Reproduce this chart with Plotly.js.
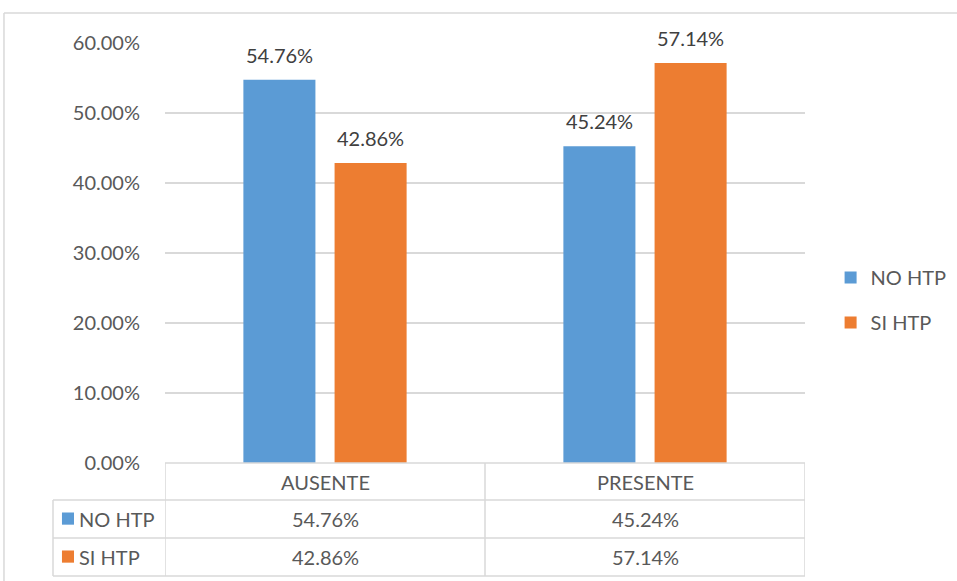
<!DOCTYPE html>
<html>
<head>
<meta charset="utf-8">
<script src="https://cdn.plot.ly/plotly-3.0.1.min.js"></script>
<style>body{margin:0;padding:0;background:#fff;}#chart{width:957px;height:581px;}</style>
</head>
<body>
<div id="chart"></div>
<script>
const categories = ["AUSENTE", "PRESENTE"];
const seriesNames = ["NO HTP", "SI HTP"];
const noHtp = [0.5476, 0.4524];
const siHtp = [0.4286, 0.5714];
const colors = ["#5B9BD5", "#ED7D31"];
const tickVals = [0, 0.1, 0.2, 0.3, 0.4, 0.5, 0.6];

const FONT = "Lato, 'Open Sans', sans-serif";
const TXT = "#595959";
const FS = 20;
const fmt = v => (v * 100).toFixed(2) + "%";
const allSeries = [noHtp, siHtp];

const traces = allSeries.map((vals, i) => ({
  type: "bar",
  name: seriesNames[i],
  x: categories,
  y: vals,
  marker: { color: colors[i] },
  legendgroup: "g" + i,
  hoverinfo: "skip"
}));

// bar geometry
const BARGAP = 0.43, GROUPGAP = 0.21;
const catPx = 640 / categories.length;
const slotPx = catPx * (1 - BARGAP) / allSeries.length;

// table geometry (paper units relative to plot area)
const rowTop = [0, -0.0881, -0.1786, -0.2690];
const leftCol = -0.175;
const shapes = [];
const lineStyle = { color: "#D9D9D9", width: 1.5 };
shapes.push({ type: "line", xref: "x", yref: "paper", x0: -0.5, x1: 1.5, y0: rowTop[0], y1: rowTop[0], line: lineStyle });
for (let r = 1; r < rowTop.length; r++) {
  shapes.push({ type: "line", xref: "paper", yref: "paper", x0: leftCol, x1: 1, y0: rowTop[r], y1: rowTop[r], line: lineStyle });
}
[-0.5, 0.5, 1.5].forEach(xv => {
  shapes.push({ type: "line", xref: "x", yref: "paper", x0: xv, x1: xv, y0: rowTop[0], y1: rowTop[3], line: lineStyle });
});
shapes.push({ type: "line", xref: "paper", yref: "paper", x0: leftCol, x1: leftCol, y0: rowTop[1], y1: rowTop[3], line: lineStyle });
// outer chart border (left & top)
shapes.push({ type: "line", xref: "paper", yref: "paper", x0: -0.2516, x1: -0.2516, y0: 1.0714, y1: -0.3, line: lineStyle });
shapes.push({ type: "line", xref: "paper", yref: "paper", x0: -0.2516, x1: 1.3, y0: 1.0714, y1: 1.0714, line: lineStyle });
// legend keys in table
seriesNames.forEach((n, i) => {
  const yc = (rowTop[i + 1] + rowTop[i + 2]) / 2;
  shapes.push({ type: "rect", xref: "paper", yref: "paper", x0: -0.161, x1: -0.1422, y0: yc - 0.0135, y1: yc + 0.0155, fillcolor: colors[i], line: { width: 0 } });
});

const annotations = [];
// data labels above bars
allSeries.forEach((vals, i) => {
  const off = (i - (allSeries.length - 1) / 2) * slotPx;
  vals.forEach((v, j) => {
    annotations.push({ xref: "x", yref: "y", x: categories[j], y: v, text: fmt(v), showarrow: false, xanchor: "center", yanchor: "bottom", xshift: off, yshift: 11, font: { family: FONT, size: FS, color: "#404040" } });
  });
});
categories.forEach((c, j) => {
  annotations.push({ xref: "x", yref: "paper", x: j, y: (rowTop[0] + rowTop[1]) / 2, text: c, showarrow: false, xanchor: "center", yanchor: "middle", font: { family: FONT, size: FS, color: TXT } });
  allSeries.forEach((vals, i) => {
    annotations.push({ xref: "x", yref: "paper", x: j, y: (rowTop[i + 1] + rowTop[i + 2]) / 2, text: fmt(vals[j]), showarrow: false, xanchor: "center", yanchor: "middle", font: { family: FONT, size: FS, color: TXT } });
  });
});
seriesNames.forEach((n, i) => {
  annotations.push({ xref: "paper", yref: "paper", x: -0.1375, y: (rowTop[i + 1] + rowTop[i + 2]) / 2, text: n, showarrow: false, xanchor: "left", yanchor: "middle", font: { family: FONT, size: FS, color: TXT } });
});

const layout = {
  width: 957, height: 581,
  margin: { l: 165, r: 152, t: 43, b: 118, autoexpand: false },
  paper_bgcolor: "#fff", plot_bgcolor: "#fff",
  barmode: "group", bargap: BARGAP, bargroupgap: GROUPGAP,
  font: { family: FONT, color: TXT, size: FS },
  xaxis: { type: "category", showticklabels: false, showgrid: false, zeroline: false, showline: false, ticks: "", range: [-0.5, 1.5], fixedrange: true },
  yaxis: { range: [0, 0.6], tickvals: tickVals, tickformat: ".2%", showgrid: true, gridcolor: "#D9D9D9", gridwidth: 1.5, zeroline: false, showline: false, ticks: "", ticklabelstandoff: 24, tickfont: { family: FONT, size: FS, color: TXT }, fixedrange: true },
  legend: { x: 1.04, y: 0.388, xanchor: "left", yanchor: "middle", font: { family: FONT, size: FS, color: TXT }, traceorder: "grouped", tracegroupgap: 16, bgcolor: "rgba(0,0,0,0)" },
  shapes: shapes,
  annotations: annotations,
  showlegend: true
};

Plotly.newPlot("chart", traces, layout, { displayModeBar: false, staticPlot: true });
</script>
</body>
</html>
